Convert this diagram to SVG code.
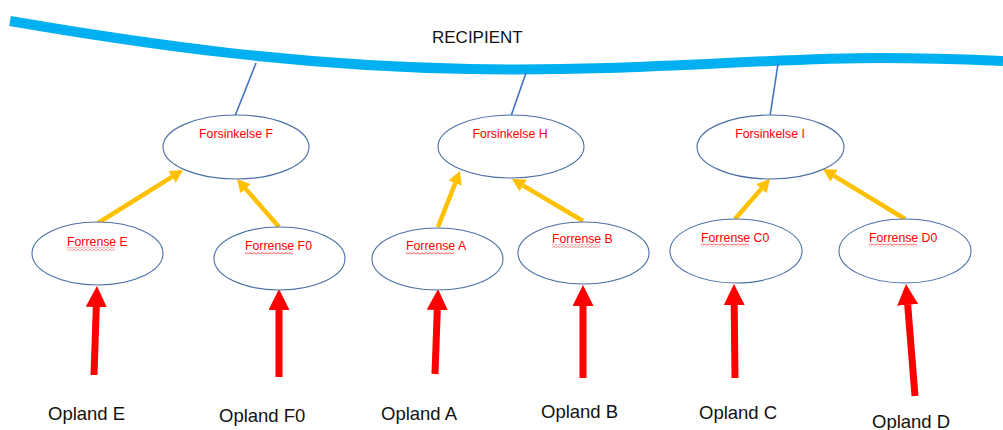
<svg xmlns="http://www.w3.org/2000/svg" width="1003" height="430" viewBox="0 0 1003 430">
<style>
.node{fill:#ffffff;stroke:#4a6fa5;stroke-width:1.1}
.ntext{font-family:"Liberation Sans",Arial,sans-serif;font-size:12.3px;fill:#ff0000}
.label{font-family:"Liberation Sans",Arial,sans-serif;font-size:18.5px;fill:#111111}
.link{stroke:#4472c4;stroke-width:1.6;fill:none}
.yel{stroke:#ffc000;stroke-width:4.5;fill:none;marker-end:url(#ya)}
.red{stroke:#ff0000;stroke-width:7;fill:none;marker-end:url(#ra)}
.wave{fill:url(#wavy)}
</style>
<defs>
<marker id="ya" markerUnits="userSpaceOnUse" viewBox="0 0 13 14" refX="0" refY="7" markerWidth="13" markerHeight="14" orient="auto">
<path d="M0,0 L13,7 L0,14 z" fill="#ffc000"/>
</marker>
<marker id="ra" markerUnits="userSpaceOnUse" viewBox="0 0 21 21" refX="0" refY="10.5" markerWidth="21" markerHeight="21" orient="auto">
<path d="M0,0 L21,10.5 L0,21 z" fill="#ff0000"/>
</marker>
<pattern id="wavy" patternUnits="userSpaceOnUse" width="4" height="3">
<path d="M0,2.2 L2,0.6 L4,2.2" fill="none" stroke="#ff0000" stroke-width="0.7"/>
</pattern>
</defs>
<g id="recipient">
<path d="M10,21 C150,45 300,66 470,69 C640,72 760,58 880,58 C940,58 980,60 1003,61" fill="none" stroke="#00b0f0" stroke-width="10"/>
<text x="432" y="43" font-family="'Liberation Sans',Arial,sans-serif" font-size="17" fill="#111111">RECIPIENT</text>
</g>
<g id="connectors">
<line class="link" x1="256" y1="63" x2="235" y2="116"/>
<line class="link" x1="526" y1="73" x2="511" y2="116"/>
<line class="link" x1="778" y1="64" x2="770" y2="116"/>
<line class="yel" x1="98" y1="223" x2="172" y2="176.9"/>
<line class="yel" x1="279" y1="227" x2="245.6" y2="188.8"/>
<line class="yel" x1="438" y1="227" x2="455.2" y2="183.1"/>
<line class="yel" x1="583" y1="221" x2="523.2" y2="185.6"/>
<line class="yel" x1="735" y1="219" x2="761.4" y2="188.8"/>
<line class="yel" x1="905" y1="219" x2="834.1" y2="175.8"/>
<line class="red" x1="94" y1="375" x2="96.3" y2="307"/>
<line class="red" x1="279" y1="377" x2="279" y2="310"/>
<line class="red" x1="435" y1="374" x2="437.3" y2="310"/>
<line class="red" x1="583" y1="378" x2="583" y2="306"/>
<line class="red" x1="735" y1="378" x2="734.2" y2="305"/>
<line class="red" x1="915" y1="396" x2="907.7" y2="304.9"/>
</g>
<g id="forsinkelse-f">
<ellipse class="node" cx="236" cy="147" rx="73" ry="32"/>
<text class="ntext" x="236" y="138" text-anchor="middle">Forsinkelse F</text>
</g>
<g id="forsinkelse-h">
<ellipse class="node" cx="511" cy="146.5" rx="73" ry="31.5"/>
<text class="ntext" x="510" y="138" text-anchor="middle">Forsinkelse H</text>
</g>
<g id="forsinkelse-i">
<ellipse class="node" cx="770.5" cy="147" rx="73.5" ry="32"/>
<text class="ntext" x="770" y="138" text-anchor="middle">Forsinkelse I</text>
</g>
<g id="forrense-e">
<ellipse class="node" cx="97.5" cy="253.5" rx="65.5" ry="31.5"/>
<text class="ntext" x="67" y="246">Forrense E</text>
<rect class="wave" x="67" y="247.5" width="48" height="3"/>
</g>
<g id="forrense-f0">
<ellipse class="node" cx="279.5" cy="258.5" rx="65.5" ry="31.5"/>
<text class="ntext" x="245" y="250">Forrense F0</text>
<rect class="wave" x="245" y="251.5" width="48" height="3"/>
</g>
<g id="forrense-a">
<ellipse class="node" cx="437.5" cy="259" rx="65.5" ry="31"/>
<text class="ntext" x="406" y="250">Forrense A</text>
<rect class="wave" x="406" y="251.5" width="48" height="3"/>
</g>
<g id="forrense-b">
<ellipse class="node" cx="583.5" cy="253" rx="65.5" ry="31"/>
<text class="ntext" x="552" y="243">Forrense B</text>
<rect class="wave" x="552" y="244.5" width="48" height="3"/>
</g>
<g id="forrense-c0">
<ellipse class="node" cx="736" cy="251" rx="66" ry="32"/>
<text class="ntext" x="701" y="242">Forrense C0</text>
<rect class="wave" x="701" y="243.5" width="48" height="3"/>
</g>
<g id="forrense-d0">
<ellipse class="node" cx="905" cy="251" rx="66" ry="32"/>
<text class="ntext" x="869" y="242">Forrense D0</text>
<rect class="wave" x="869" y="243.5" width="48" height="3"/>
</g>
<g id="opland-e"><text class="label" x="48" y="420">Opland E</text></g>
<g id="opland-f0"><text class="label" x="219" y="422">Opland F0</text></g>
<g id="opland-a"><text class="label" x="381" y="420">Opland A</text></g>
<g id="opland-b"><text class="label" x="541" y="418">Opland B</text></g>
<g id="opland-c"><text class="label" x="699" y="419">Opland C</text></g>
<g id="opland-d"><text class="label" x="872" y="428">Opland D</text></g>
</svg>
